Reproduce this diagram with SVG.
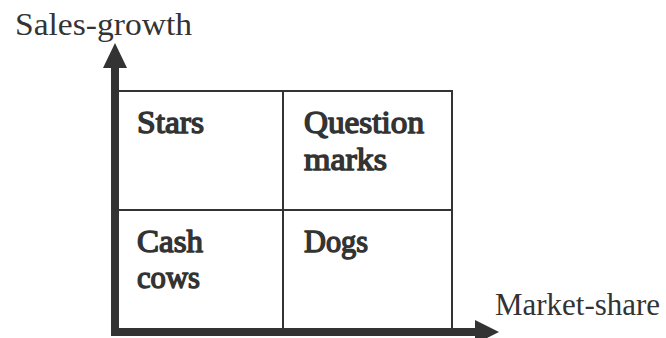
<svg xmlns="http://www.w3.org/2000/svg" width="666" height="338" viewBox="0 0 666 338">
<style>
.cell{fill:#fff;stroke:#333;stroke-width:2}
.lbl{font-family:"Liberation Serif",serif;font-weight:400;font-size:31px;fill:#333;stroke:#333;stroke-width:1.4;stroke-linejoin:round}
.ax{font-family:"Liberation Serif",serif;font-size:32px;fill:#333}
.axis{fill:#333}
</style>
<rect width="666" height="338" fill="#fff"/>
<g id="stars"><rect class="cell" x="115" y="91" width="168" height="119"/><text class="lbl" x="137" y="133" textLength="67" lengthAdjust="spacingAndGlyphs">Stars</text></g>
<g id="question-marks"><rect class="cell" x="283" y="91" width="169" height="119"/><text class="lbl" x="304" y="133" textLength="120" lengthAdjust="spacingAndGlyphs">Question</text><text class="lbl" x="304" y="170" textLength="83" lengthAdjust="spacingAndGlyphs">marks</text></g>
<g id="cash-cows"><rect class="cell" x="115" y="210" width="168" height="122"/><text class="lbl" x="137" y="252" textLength="66" lengthAdjust="spacingAndGlyphs">Cash</text><text class="lbl" x="137" y="288" textLength="63" lengthAdjust="spacingAndGlyphs">cows</text></g>
<g id="dogs"><rect class="cell" x="283" y="210" width="169" height="122"/><text class="lbl" x="304" y="252" textLength="64" lengthAdjust="spacingAndGlyphs">Dogs</text></g>
<g id="connectors">
<rect class="axis" x="111" y="66" width="8" height="270"/>
<polygon class="axis" points="103,68 115,43 127,68"/>
<rect class="axis" x="111" y="328" width="366" height="8"/>
<polygon class="axis" points="475,320 499,332 475,344"/>
</g>
<text class="ax" x="15" y="35" textLength="177" lengthAdjust="spacingAndGlyphs">Sales-growth</text>
<text class="ax" x="495" y="315" textLength="165" lengthAdjust="spacingAndGlyphs">Market-share</text>
</svg>
